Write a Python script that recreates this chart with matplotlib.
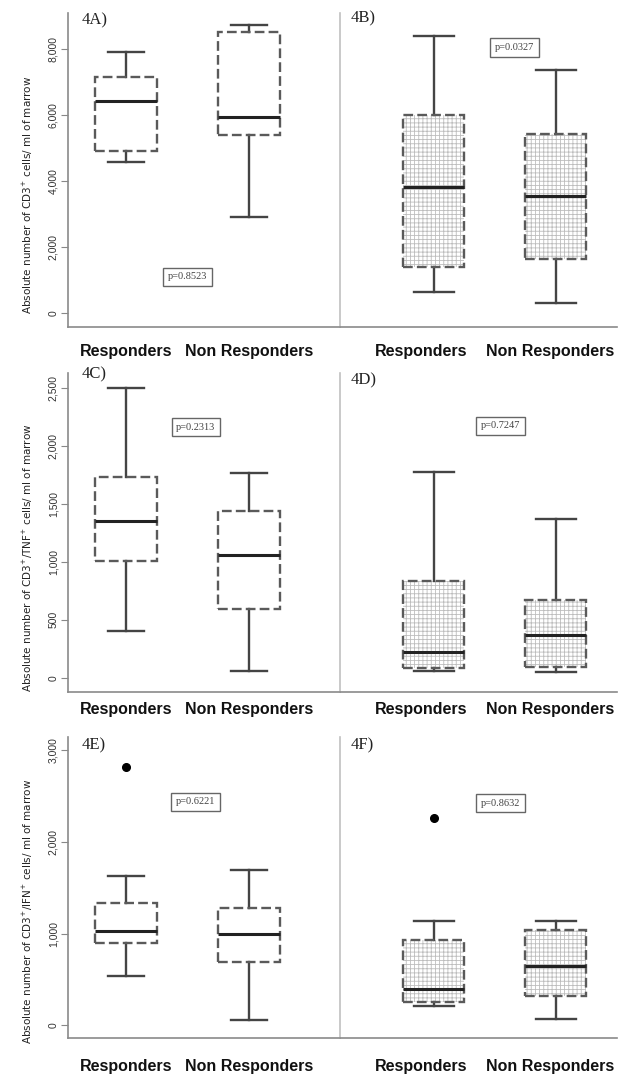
import matplotlib
matplotlib.use("Agg")
import matplotlib.pyplot as plt
from matplotlib.patches import PathPatch
from matplotlib.ticker import FuncFormatter
from matplotlib.transforms import ScaledTranslation

plt.rcParams['lines.scale_dashes'] = False
plt.rcParams['hatch.linewidth'] = 0.6

groups = ["Responders", "Non Responders"]

# Panel 4A / 4B: CD3+
a_med = [6430, 5950]; a_q1 = [4920, 5390]; a_q3 = [7160, 8520]
a_lo = [4570, 2920]; a_hi = [7900, 8730]; a_fl = [[], []]
b_med = [3830, 3550]; b_q1 = [1400, 1630]; b_q3 = [6000, 5420]
b_lo = [630, 290]; b_hi = [8400, 7360]; b_fl = [[], []]
# Panel 4C / 4D: CD3+/TNF+
c_med = [1356, 1060]; c_q1 = [1010, 593]; c_q3 = [1731, 1442]
c_lo = [403, 58]; c_hi = [2500, 1770]; c_fl = [[], []]
d_med = [225, 369]; d_q1 = [81, 95]; d_q3 = [835, 671]
d_lo = [58, 47]; d_hi = [1779, 1370]; d_fl = [[], []]
# Panel 4E / 4F: CD3+/IFN+
e_med = [1023, 998]; e_q1 = [897, 690]; e_q3 = [1332, 1278]
e_lo = [533, 62]; e_hi = [1632, 1694]; e_fl = [[2818], []]
f_med = [396, 642]; f_q1 = [250, 316]; f_q3 = [925, 1034]
f_lo = [214, 73]; f_hi = [1132, 1132]; f_fl = [[2263], []]

panel_labels = ["4A)", "4B)", "4C)", "4D)", "4E)", "4F)"]
p_values = ["p=0.8523", "p=0.0327", "p=0.2313", "p=0.7247", "p=0.6221", "p=0.8632"]
ylabels = ["Absolute number of CD3$^{+}$ cells/ ml of marrow",
           "Absolute number of CD3$^{+}$/TNF$^{+}$ cells/ ml of marrow",
           "Absolute number of CD3$^{+}$/IFN$^{+}$ cells/ ml of marrow"]
yticks_rows = [[0, 2000, 4000, 6000, 8000], [0, 500, 1000, 1500, 2000, 2500], [0, 1000, 2000, 3000]]
ylims = [(-424, 9091), (-123, 2631), (-137, 3141)]

panels = [(a_med, a_q1, a_q3, a_lo, a_hi, a_fl), (b_med, b_q1, b_q3, b_lo, b_hi, b_fl),
          (c_med, c_q1, c_q3, c_lo, c_hi, c_fl), (d_med, d_q1, d_q3, d_lo, d_hi, d_fl),
          (e_med, e_q1, e_q3, e_lo, e_hi, e_fl), (f_med, f_q1, f_q3, f_lo, f_hi, f_fl)]

W, H = 627, 1074
fig = plt.figure(figsize=(W / 100, H / 100), dpi=100)
fig.patch.set_facecolor("white")

row_px = [(13, 327), (373, 692), (737, 1038)]
xlab_pad = [12, 7, 15]
label_y = [0.978, 0.995, 0.973]
label_y_r = [0.984, 0.978, 0.973]
pbox_pos = [(0.44, 0.16), (0.63, 0.89), (0.47, 0.83), (0.58, 0.834), (0.47, 0.785), (0.58, 0.78)]
right_label_shift_px = [-13, -6]

fmt = FuncFormatter(lambda v, p: f"{int(v):,}")

for r in range(3):
    top, bot = row_px[r]
    for c in range(2):
        idx = r * 2 + c
        if c == 0:
            rect = [68 / W, 1 - bot / H, 272 / W, (bot - top) / H]
        else:
            rect = [340 / W, 1 - bot / H, 277 / W, (bot - top) / H]
        ax = fig.add_axes(rect)
        med, q1, q3, lo, hi, fl = panels[idx]
        stats = [dict(med=med[i], q1=q1[i], q3=q3[i], whislo=lo[i], whishi=hi[i],
                      fliers=fl[i], label=groups[i]) for i in range(2)]
        hatched = (c == 1)
        boxprops = dict(facecolor="white", edgecolor="#bdbdbd" if hatched else "white",
                        linewidth=0, hatch="++++" if hatched else None)
        cw = 0.3 if c == 0 else 0.33
        bp = ax.bxp(stats, positions=[1, 2], widths=0.5, patch_artist=True,
                    boxprops=boxprops,
                    medianprops=dict(color="#222222", linewidth=2.2, solid_capstyle="butt"),
                    whiskerprops=dict(color="#444444", linewidth=1.7),
                    capprops=dict(color="#444444", linewidth=1.7),
                    flierprops=dict(marker="o", markerfacecolor="black", markeredgecolor="black",
                                    markersize=5.5),
                    capwidths=[cw, cw])
        for box in bp["boxes"]:
            outline = PathPatch(box.get_path(), transform=box.get_transform(), fill=False,
                                edgecolor="#5a5a5a", linewidth=1.7, linestyle=(0, (7, 3)),
                                zorder=box.get_zorder() + 0.5)
            ax.add_patch(outline)
        for m in bp["medians"]:
            m.set_zorder(5)

        ax.set_ylim(*ylims[r])
        if c == 0:
            ax.set_xlim(0.528, 2.74)
        else:
            ax.set_xlim(0.23, 2.5)

        for s in ["top", "right"]:
            ax.spines[s].set_visible(False)
        ax.spines["bottom"].set_color("#8a8a8a")
        ax.spines["bottom"].set_linewidth(1.2)
        ax.spines["left"].set_color("#8a8a8a" if c == 0 else "#c0c0c0")
        ax.spines["left"].set_linewidth(1.2)

        ax.set_xticks([1, 2])
        ax.set_xticklabels(groups, fontfamily="Liberation Sans", fontweight="bold",
                           fontsize=11.5, color="#111111")
        ax.tick_params(axis="x", length=0, pad=xlab_pad[r])
        if c == 1:
            for t, dx in zip(ax.get_xticklabels(), right_label_shift_px):
                t.set_transform(t.get_transform() +
                                ScaledTranslation(dx / 100, 0, fig.dpi_scale_trans))

        if c == 0:
            ax.set_yticks(yticks_rows[r])
            ax.yaxis.set_major_formatter(fmt)
            ax.tick_params(axis="y", length=5, color="#888888", labelsize=7.5,
                           labelcolor="#333333", pad=2)
            for t in ax.get_yticklabels():
                t.set_rotation(90)
                t.set_va("center")
                t.set_fontfamily("Liberation Sans")
            ax.set_ylabel(ylabels[r], fontsize=7.5, fontfamily="DejaVu Sans", color="#222222")
            ax.yaxis.set_label_coords(-0.12, 0.42)
            ax.text(0.05, label_y[r], panel_labels[idx], transform=ax.transAxes,
                    fontfamily="Liberation Serif", fontsize=12, va="center", ha="left",
                    color="#222222")
        else:
            ax.set_yticks([])
            ax.text(0.04, label_y_r[r], panel_labels[idx], transform=ax.transAxes,
                    fontfamily="Liberation Serif", fontsize=12, va="center", ha="left",
                    color="#222222")

        px, py = pbox_pos[idx]
        ax.text(px, py, p_values[idx], transform=ax.transAxes, fontsize=7.5,
                fontfamily="Liberation Serif", ha="center", va="center", color="#444444",
                bbox=dict(boxstyle="square,pad=0.45", facecolor="white", edgecolor="#666666",
                          linewidth=1.0))

fig.savefig("out.png", dpi=100, facecolor="white")
